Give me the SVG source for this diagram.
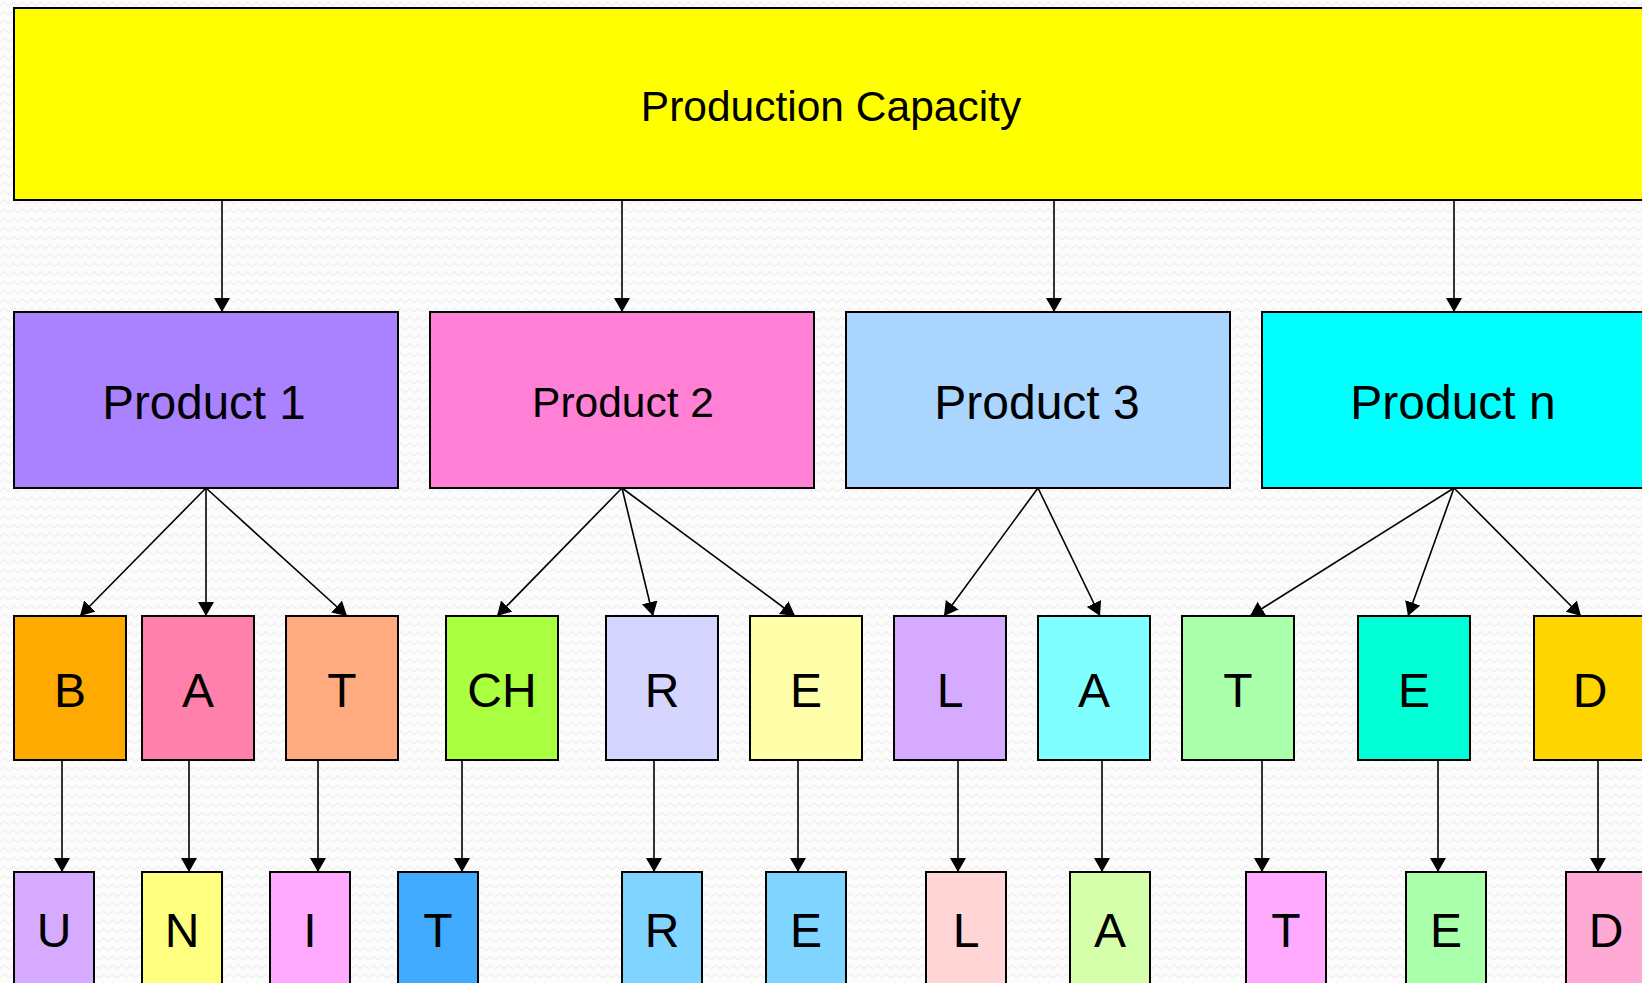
<svg xmlns="http://www.w3.org/2000/svg" width="1642" height="983" viewBox="0 0 1642 983">
  <style>
    .box { stroke: #000; stroke-width: 2; }
    .lbl { font-family: "Liberation Sans", Arial, sans-serif; fill: #000; text-anchor: middle; }
    .title { font-size: 42.5px; }
    .prod { font-size: 48px; }
    .leaf { font-size: 48px; }
    .conn line { stroke: #000; stroke-width: 1.6; marker-end: url(#arrow); }
  </style>
  <defs>
    <pattern id="zigzag" width="9" height="9" patternUnits="userSpaceOnUse">
      <rect width="9" height="9" fill="#fcfcfc"/>
      <path d="M0,6 L4.5,2 L9,6" fill="none" stroke="#f1f1f1" stroke-width="1.5"/>
    </pattern>
    <marker id="arrow" markerUnits="userSpaceOnUse" markerWidth="16" markerHeight="16" refX="14" refY="8" orient="auto">
      <path d="M0,0 L14,8 L0,16 z" fill="#000"/>
    </marker>
  </defs>

  <!-- textured backdrop -->
  <rect width="1642" height="983" fill="url(#zigzag)"/>

  <!-- connectors -->
  <g id="connectors" class="conn">
    <line x1="222" y1="200" x2="222" y2="312"/>
    <line x1="622" y1="200" x2="622" y2="312"/>
    <line x1="1054" y1="200" x2="1054" y2="312"/>
    <line x1="1454" y1="200" x2="1454" y2="312"/>

    <line x1="206" y1="488" x2="80" y2="616"/>
    <line x1="206" y1="488" x2="206" y2="616"/>
    <line x1="206" y1="488" x2="347" y2="616"/>

    <line x1="622" y1="488" x2="497" y2="616"/>
    <line x1="622" y1="488" x2="653" y2="616"/>
    <line x1="622" y1="488" x2="795" y2="616"/>

    <line x1="1038" y1="488" x2="944" y2="616"/>
    <line x1="1038" y1="488" x2="1100" y2="616"/>

    <line x1="1454" y1="488" x2="1250" y2="616"/>
    <line x1="1454" y1="488" x2="1408" y2="616"/>
    <line x1="1454" y1="488" x2="1581" y2="616"/>

    <line x1="62" y1="760" x2="62" y2="872"/>
    <line x1="189" y1="760" x2="189" y2="872"/>
    <line x1="318" y1="760" x2="318" y2="872"/>
    <line x1="462" y1="760" x2="462" y2="872"/>
    <line x1="654" y1="760" x2="654" y2="872"/>
    <line x1="798" y1="760" x2="798" y2="872"/>
    <line x1="958" y1="760" x2="958" y2="872"/>
    <line x1="1102" y1="760" x2="1102" y2="872"/>
    <line x1="1262" y1="760" x2="1262" y2="872"/>
    <line x1="1438" y1="760" x2="1438" y2="872"/>
    <line x1="1598" y1="760" x2="1598" y2="872"/>
  </g>

  <!-- root -->
  <g id="capacity">
    <rect class="box" x="14" y="8" width="1640" height="192" fill="#ffff00"/>
    <text class="lbl title" x="831" y="121">Production Capacity</text>
  </g>

  <!-- products -->
  <g id="product-1">
    <rect class="box" x="14" y="312" width="384" height="176" fill="#aa82ff"/>
    <text class="lbl prod" x="204" y="419" style="font-size:47.5px">Product 1</text>
  </g>
  <g id="product-2">
    <rect class="box" x="430" y="312" width="384" height="176" fill="#ff80d5"/>
    <text class="lbl prod" x="623" y="417" style="font-size:42.5px">Product 2</text>
  </g>
  <g id="product-3">
    <rect class="box" x="846" y="312" width="384" height="176" fill="#aad5ff"/>
    <text class="lbl prod" x="1037" y="419">Product 3</text>
  </g>
  <g id="product-n">
    <rect class="box" x="1262" y="312" width="400" height="176" fill="#00ffff"/>
    <text class="lbl prod" x="1453" y="419">Product n</text>
  </g>

  <!-- third row -->
  <g id="r3-b"><rect class="box" x="14" y="616" width="112" height="144" fill="#ffaa00"/><text class="lbl leaf" x="70" y="707">B</text></g>
  <g id="r3-a1"><rect class="box" x="142" y="616" width="112" height="144" fill="#ff80aa"/><text class="lbl leaf" x="198" y="707">A</text></g>
  <g id="r3-t1"><rect class="box" x="286" y="616" width="112" height="144" fill="#ffaa7f"/><text class="lbl leaf" x="342" y="707">T</text></g>
  <g id="r3-ch"><rect class="box" x="446" y="616" width="112" height="144" fill="#aaff40"/><text class="lbl leaf" x="502" y="707">CH</text></g>
  <g id="r3-r"><rect class="box" x="606" y="616" width="112" height="144" fill="#d5d5ff"/><text class="lbl leaf" x="662" y="707">R</text></g>
  <g id="r3-e1"><rect class="box" x="750" y="616" width="112" height="144" fill="#ffffaa"/><text class="lbl leaf" x="806" y="707">E</text></g>
  <g id="r3-l"><rect class="box" x="894" y="616" width="112" height="144" fill="#d5aaff"/><text class="lbl leaf" x="950" y="707">L</text></g>
  <g id="r3-a2"><rect class="box" x="1038" y="616" width="112" height="144" fill="#7fffff"/><text class="lbl leaf" x="1094" y="707">A</text></g>
  <g id="r3-t2"><rect class="box" x="1182" y="616" width="112" height="144" fill="#aaffaa"/><text class="lbl leaf" x="1238" y="707">T</text></g>
  <g id="r3-e2"><rect class="box" x="1358" y="616" width="112" height="144" fill="#00ffd5"/><text class="lbl leaf" x="1414" y="707">E</text></g>
  <g id="r3-d"><rect class="box" x="1534" y="616" width="120" height="144" fill="#ffd500"/><text class="lbl leaf" x="1590" y="707">D</text></g>

  <!-- fourth row -->
  <g id="r4-u"><rect class="box" x="14" y="872" width="80" height="130" fill="#d5aaff"/><text class="lbl leaf" x="54" y="947">U</text></g>
  <g id="r4-n"><rect class="box" x="142" y="872" width="80" height="130" fill="#ffff7f"/><text class="lbl leaf" x="182" y="947">N</text></g>
  <g id="r4-i"><rect class="box" x="270" y="872" width="80" height="130" fill="#ffaaff"/><text class="lbl leaf" x="310" y="947">I</text></g>
  <g id="r4-t1"><rect class="box" x="398" y="872" width="80" height="130" fill="#40aaff"/><text class="lbl leaf" x="438" y="947">T</text></g>
  <g id="r4-r"><rect class="box" x="622" y="872" width="80" height="130" fill="#7fd5ff"/><text class="lbl leaf" x="662" y="947">R</text></g>
  <g id="r4-e1"><rect class="box" x="766" y="872" width="80" height="130" fill="#7fd5ff"/><text class="lbl leaf" x="806" y="947">E</text></g>
  <g id="r4-l"><rect class="box" x="926" y="872" width="80" height="130" fill="#ffd5d5"/><text class="lbl leaf" x="966" y="947">L</text></g>
  <g id="r4-a"><rect class="box" x="1070" y="872" width="80" height="130" fill="#d5ffaa"/><text class="lbl leaf" x="1110" y="947">A</text></g>
  <g id="r4-t2"><rect class="box" x="1246" y="872" width="80" height="130" fill="#ffaaff"/><text class="lbl leaf" x="1286" y="947">T</text></g>
  <g id="r4-e2"><rect class="box" x="1406" y="872" width="80" height="130" fill="#aaffaa"/><text class="lbl leaf" x="1446" y="947">E</text></g>
  <g id="r4-d"><rect class="box" x="1566" y="872" width="90" height="130" fill="#ffaad5"/><text class="lbl leaf" x="1606" y="947">D</text></g>
</svg>
